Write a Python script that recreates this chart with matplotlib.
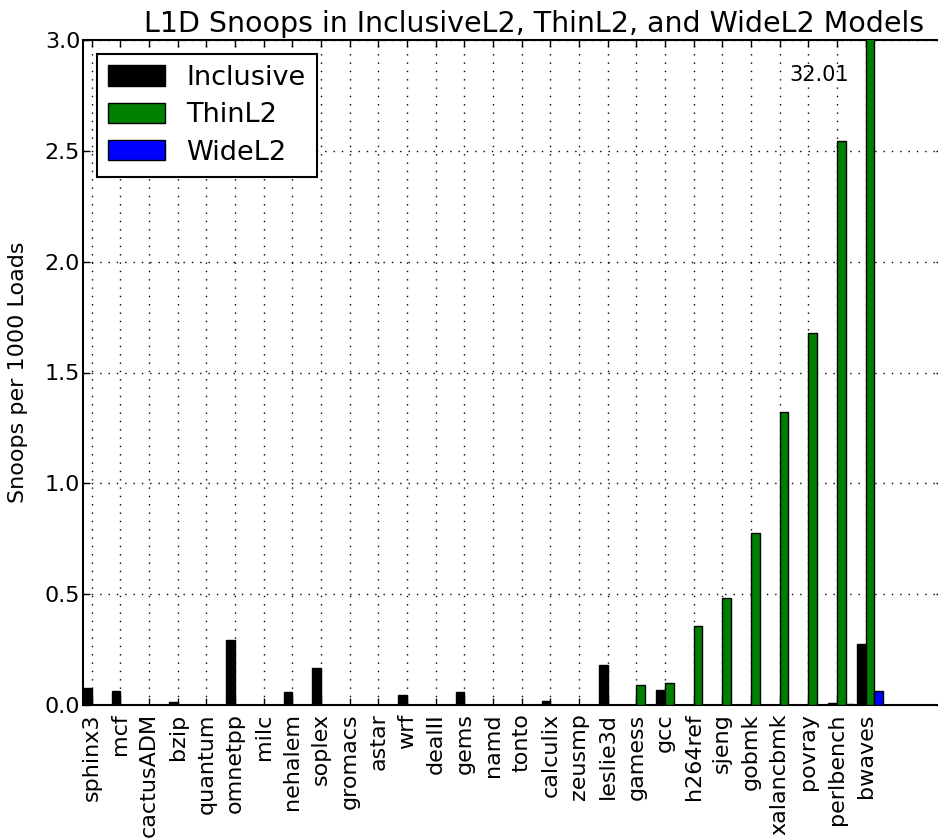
import numpy as np
import matplotlib
matplotlib.use("Agg")
import matplotlib.pyplot as plt

categories = ["sphinx3", "mcf", "cactusADM", "bzip", "quantum", "omnetpp", "milc",
              "nehalem", "soplex", "gromacs", "astar", "wrf", "dealII", "gems",
              "namd", "tonto", "calculix", "zeusmp", "leslie3d", "gamess", "gcc",
              "h264ref", "sjeng", "gobmk", "xalancbmk", "povray", "perlbench", "bwaves"]

inclusive = [0.078, 0.065, 0.0, 0.013, 0.0, 0.292, 0.0, 0.060, 0.168, 0.0, 0.0,
             0.047, 0.0, 0.060, 0.0, 0.0, 0.017, 0.0, 0.180, 0.0, 0.068, 0.0,
             0.0, 0.0, 0.0, 0.0, 0.008, 0.277]
thinl2 = [0.0, 0.0, 0.0, 0.0, 0.0, 0.0, 0.0, 0.0, 0.0, 0.0, 0.0, 0.0, 0.0, 0.0,
          0.0, 0.0, 0.0, 0.0, 0.0, 0.090, 0.098, 0.356, 0.484, 0.776, 1.322,
          1.678, 2.544, 32.01]
widel2 = [0.0, 0.0, 0.0, 0.0, 0.0, 0.0, 0.0, 0.0, 0.0, 0.0, 0.0, 0.0, 0.0, 0.0,
          0.0, 0.0, 0.0, 0.0, 0.0, 0.0, 0.0, 0.0, 0.0, 0.0, 0.0, 0.0, 0.004, 0.065]
series_names = ["Inclusive", "ThinL2", "WideL2"]
overflow_label = "32.01"

plt.rcParams['font.family'] = ['DejaVu Sans']

fig = plt.figure(figsize=(9.38, 8.39), dpi=100)
fig.patch.set_facecolor('white')
ax = fig.add_axes([83/938, 1-705/839, 860/938, 665/839])

ind = np.arange(len(categories))
width = 0.3
ax.bar(ind, inclusive, width, align='edge', color='k', edgecolor='k', linewidth=1, label=series_names[0], zorder=3)
ax.bar(ind + width, thinl2, width, align='edge', color='g', edgecolor='k', linewidth=1, label=series_names[1], zorder=3)
ax.bar(ind + 2*width, widel2, width, align='edge', color='b', edgecolor='k', linewidth=1, label=series_names[2], zorder=3)

ax.set_xlim(0, 30)
ax.set_ylim(0, 3.0)
ax.set_xticks(ind + width)
ax.set_xticklabels(categories, rotation=90, fontsize=16)
ax.set_yticks(np.arange(0, 3.01, 0.5))
ax.set_yticklabels(["%.1f" % v for v in np.arange(0, 3.01, 0.5)], fontsize=16)
ax.tick_params(axis='both', direction='in', length=5, width=1, top=True, right=True)
ax.tick_params(axis='x', pad=6)
ax.tick_params(axis='y', pad=2)

ax.grid(True, color='k', linestyle=(0, (1, 5)), linewidth=1, zorder=0)
ax.set_axisbelow(True)
for sp in ax.spines.values():
    sp.set_linewidth(1.5)

ax.set_ylabel("Snoops per 1000 Loads", fontsize=16, labelpad=12)
ax.set_title("L1D Snoops in InclusiveL2, ThinL2, and WideL2 Models", fontsize=20.5, x=0.524, pad=6)

ax.text(25.67, 2.84, overflow_label, fontsize=15, ha='center', va='center', zorder=4)

leg = ax.legend(loc='upper left', fontsize=19.5, handlelength=2.1, handleheight=0.78,
                handletextpad=0.8, labelspacing=0.42, borderpad=0.42, borderaxespad=0.5,
                fancybox=False, framealpha=1)
leg.get_frame().set_edgecolor('k')
leg.get_frame().set_linewidth(1.5)

fig.savefig("out.png", dpi=100, facecolor='white')
